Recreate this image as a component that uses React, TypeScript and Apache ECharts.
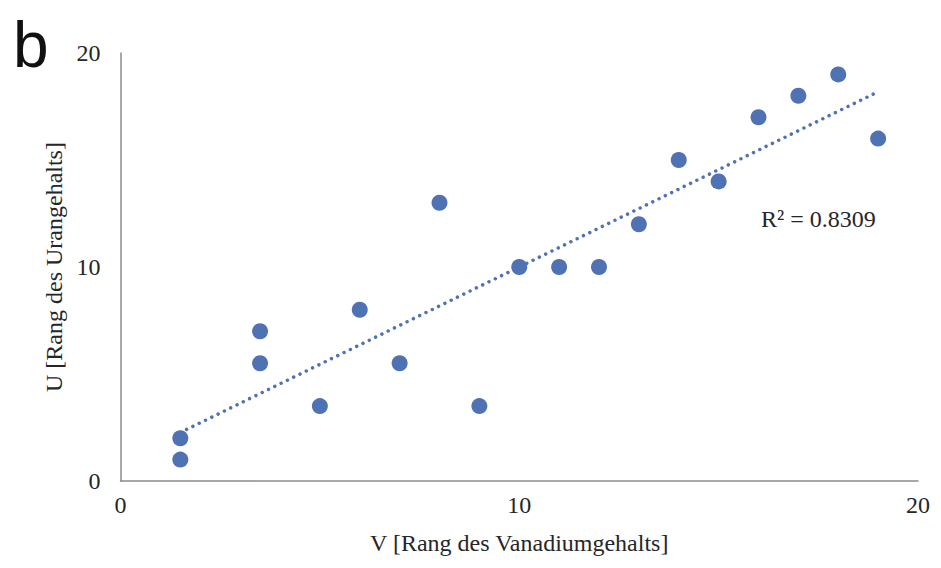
import React, { useEffect, useRef } from "react";
import * as echarts from "echarts";

const vRank: number[] = [1.5, 1.5, 3.5, 3.5, 5, 6, 7, 8, 9, 10, 11, 12, 13, 14, 15, 16, 17, 18, 19];
const uRank: number[] = [2, 1, 7, 5.5, 3.5, 8, 5.5, 13, 3.5, 10, 10, 10, 12, 15, 14, 17, 18, 19, 16];
const xAxisTitle = "V [Rang des Vanadiumgehalts]";
const yAxisTitle = "U [Rang des Urangehalts]";
const panelLabel = "b";

function regression(xs: number[], ys: number[]) {
  const n = xs.length;
  const mx = xs.reduce((a, b) => a + b, 0) / n;
  const my = ys.reduce((a, b) => a + b, 0) / n;
  let sxy = 0, sxx = 0, syy = 0;
  for (let i = 0; i < n; i++) {
    sxy += (xs[i] - mx) * (ys[i] - my);
    sxx += (xs[i] - mx) ** 2;
    syy += (ys[i] - my) ** 2;
  }
  const slope = sxy / sxx;
  const intercept = my - slope * mx;
  const r2 = (sxy * sxy) / (sxx * syy);
  return { slope, intercept, r2 };
}

export default function App() {
  const ref = useRef<HTMLDivElement>(null);
  useEffect(() => {
    if (!ref.current) return;
    const chart = echarts.init(ref.current, undefined, { renderer: "svg" });
    const { slope, intercept, r2 } = regression(vRank, uRank);
    const xMin = Math.min(...vRank);
    const xMax = Math.max(...vRank);
    const trend = [
      [xMin, intercept + slope * xMin],
      [xMax, intercept + slope * xMax],
    ];
    const serif = "'Liberation Serif', 'DejaVu Serif', serif";
    const textColor = "#262626";
    chart.setOption({
      animation: false,
      backgroundColor: "#ffffff",
      grid: { left: 112.5, right: 10.5, top: 45, bottom: 75, containLabel: false },
      xAxis: {
        type: "value",
        min: 0,
        max: 20,
        interval: 10,
        name: xAxisTitle,
        nameLocation: "middle",
        nameGap: 50,
        nameTextStyle: { fontFamily: serif, fontSize: 24, color: textColor },
        axisLine: { show: true, lineStyle: { color: "#8c8c8c", width: 1.5 } },
        axisTick: { show: false },
        splitLine: { show: false },
        axisLabel: { fontFamily: serif, fontSize: 24, color: textColor, margin: 12 },
      },
      yAxis: {
        type: "value",
        min: 0,
        max: 20,
        interval: 10,
        name: yAxisTitle,
        nameLocation: "middle",
        nameGap: 50,
        nameTextStyle: { fontFamily: serif, fontSize: 24, color: textColor },
        axisLine: { show: true, lineStyle: { color: "#8c8c8c", width: 1.5 } },
        axisTick: { show: false },
        splitLine: { show: false },
        axisLabel: { fontFamily: serif, fontSize: 24, color: textColor, margin: 20 },
      },
      graphic: [
        {
          type: "text",
          left: 5,
          top: 5,
          style: {
            text: panelLabel,
            fontFamily: "'Liberation Sans', Arial, sans-serif",
            fontSize: 64,
            lineHeight: 48,
            fill: "#111111",
          },
        },
        {
          type: "text",
          left: 753,
          top: 199,
          style: {
            text: "R² = " + r2.toFixed(4),
            fontFamily: serif,
            fontSize: 24,
            fill: textColor,
          },
        },
      ],
      series: [
        {
          type: "line",
          data: trend,
          symbol: "none",
          silent: true,
          lineStyle: { color: "#4f72b5", width: 3.5, type: [0.01, 7], cap: "round" },
          z: 1,
        },
        {
          type: "scatter",
          data: vRank.map((v, i) => [v, uRank[i]]),
          symbol: "circle",
          symbolSize: 16,
          itemStyle: { color: "#4f72b5", opacity: 1 },
          z: 2,
        },
      ],
    });
    return () => chart.dispose();
  }, []);
  return <div ref={ref} style={{ width: 925, height: 552 }} />;
}
